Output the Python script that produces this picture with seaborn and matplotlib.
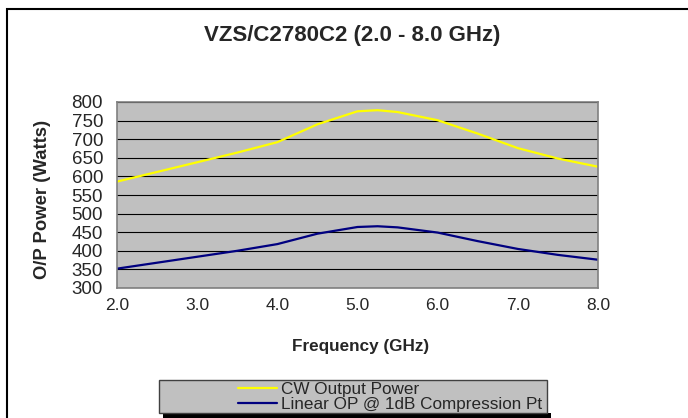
import pandas as pd
import numpy as np
import matplotlib
matplotlib.use("Agg")
import matplotlib.pyplot as plt
from matplotlib.patches import Rectangle
import seaborn as sns

# values
freq = [2.0, 2.5, 3.0, 3.5, 4.0, 4.5, 5.0, 5.25, 5.5, 6.0, 6.5, 7.0, 7.5, 8.0]
cw_power = [586, 612, 638, 664, 692, 740, 775, 778, 773, 751, 715, 676, 648, 626]
linear_op = [352, 368, 384, 400, 418, 446, 464, 466, 463, 449, 426, 405, 389, 376]
series_names = ["CW Output Power", "Linear OP @ 1dB Compression Pt"]
series_colors = ["#FFFF00", "#000080"]
x_ticks = [2.0, 3.0, 4.0, 5.0, 6.0, 7.0, 8.0]
y_ticks = list(range(300, 801, 50))

data = pd.DataFrame({
    "Frequency": freq * 2,
    "Power": cw_power + linear_op,
    "Series": [series_names[0]] * len(freq) + [series_names[1]] * len(freq),
})

sns.set_style("white")
plt.rcParams["font.family"] = ["Liberation Sans", "DejaVu Sans"]

W, H = 688, 418
fig = plt.figure(figsize=(W / 100, H / 100), dpi=100)
fig.patch.set_facecolor("white")

# outer chart frame (open at right/bottom like the reference crop)
fig.patches.append(Rectangle((7 / W, -0.1), 1.2, 1 - 9 / H + 0.1, transform=fig.transFigure,
                             fill=False, edgecolor="black", linewidth=1.5))

ax = fig.add_axes([117 / W, 1 - 288 / H, (598 - 117) / W, (288 - 102) / H])
ax.set_facecolor("#C0C0C0")

sns.lineplot(data=data, x="Frequency", y="Power", hue="Series", palette=series_colors,
             linewidth=1.6, ax=ax, legend=False)

ax.set_xlim(2.0, 8.0)
ax.set_ylim(300, 800)
ax.set_xticks(x_ticks)
ax.set_xticklabels([f"{v:.1f}" for v in x_ticks])
ax.set_yticks(y_ticks)
ax.yaxis.grid(True, color="black", linewidth=0.8)
ax.set_axisbelow(True)
for s in ax.spines.values():
    s.set_color("#808080")
    s.set_linewidth(1.2)
ax.tick_params(axis="y", length=3, width=1, color="#404040", pad=7, labelsize=13.5)
ax.tick_params(axis="x", length=3, width=1, color="#404040", pad=4, labelsize=12.5)
ax.set_xlabel("")
ax.set_ylabel("")

fig.text(352 / W, 1 - 35 / H, "VZS/C2780C2 (2.0 - 8.0 GHz)", ha="center", va="center",
         fontsize=16, fontweight="bold")
fig.text(361 / W, 1 - 347 / H, "Frequency (GHz)", ha="center", va="center",
         fontsize=12.3, fontweight="bold")
fig.text(43 / W, 1 - 199 / H, "O/P Power (Watts)", ha="center", va="center",
         rotation=90, fontsize=13.3, fontweight="bold")

# legend box with shadow
fig.patches.append(Rectangle((163 / W, -0.05), 388 / W, 0.05 + 1 - 413 / H,
                             transform=fig.transFigure, facecolor="black", edgecolor="none"))
fig.patches.append(Rectangle((159 / W, 1 - 413 / H), 388 / W, 33 / H, transform=fig.transFigure,
                             facecolor="#C0C0C0", edgecolor="#404040", linewidth=1))
handles = [plt.Line2D([], [], color=c, linewidth=1.6) for c in series_colors]
fig.legend(handles, series_names, loc="upper left", bbox_to_anchor=(238 / W, 1 - 382 / H),
           frameon=False, fontsize=12.3, borderpad=0, handlelength=2.3, handletextpad=0.2,
           labelspacing=0.02, borderaxespad=0)

fig.savefig("out.png", dpi=100)
